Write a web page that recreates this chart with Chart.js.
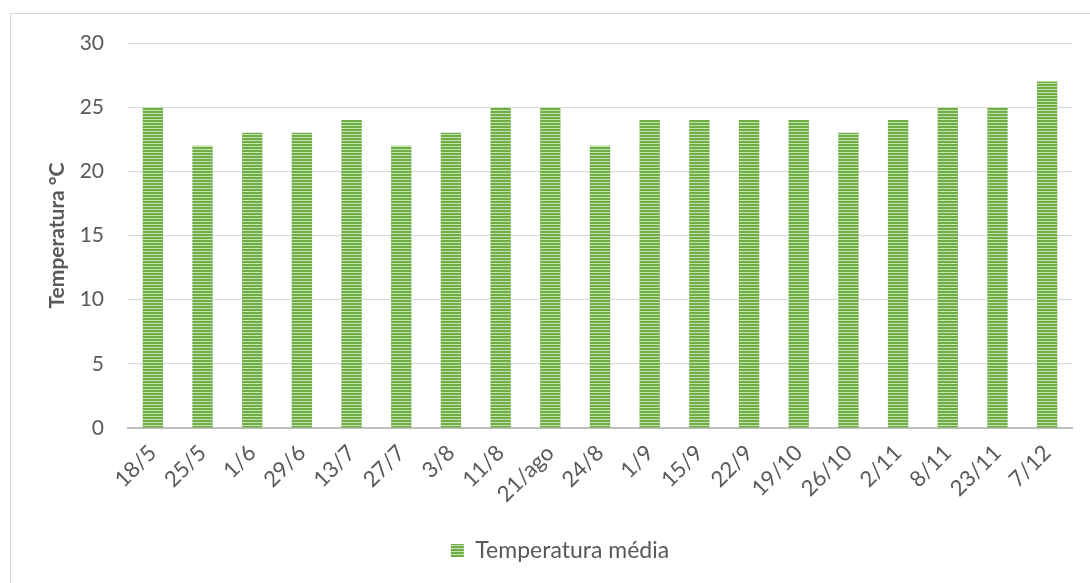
<!DOCTYPE html>
<html>
<head>
<meta charset="utf-8">
<script src="https://cdn.jsdelivr.net/npm/chart.js@4"></script>
<style>
  html, body { margin: 0; padding: 0; background: #fff; }
  canvas { display: block; }
</style>
</head>
<body>
<canvas id="chart" width="1090" height="583"></canvas>
<script>
const dates = ['18/5', '25/5', '1/6', '29/6', '13/7', '27/7', '3/8', '11/8', '21/ago', '24/8',
  '1/9', '15/9', '22/9', '19/10', '26/10', '2/11', '8/11', '23/11', '7/12'];
const tempMedia = [25, 22, 23, 23, 24, 22, 23, 25, 25, 22, 24, 24, 24, 24, 23, 24, 25, 25, 27];
const yTicks = [0, 5, 10, 15, 20, 25, 30];

const FONT = 'Lato, "Open Sans", sans-serif';
const GREY = '#595959';

// horizontal stripes like the Excel fill
function stripes() {
  const c = document.createElement('canvas');
  c.width = 4;
  c.height = 3;
  const g = c.getContext('2d');
  g.fillStyle = '#6fae45';
  g.fillRect(0, 0, 4, 2);
  g.fillStyle = '#c4e0b0';
  g.fillRect(0, 2, 4, 1);
  return g.createPattern(c, 'repeat');
}

const frame = {
  id: 'frame',
  afterLayout(chart) {
    // excel centres the legend on the whole (wider) chart frame
    chart.legend.left += 24;
    chart.legend.right += 24;
  },
  beforeDraw(chart) {
    const ctx = chart.ctx;
    ctx.save();
    ctx.strokeStyle = '#d9d9d9';
    ctx.lineWidth = 1;
    ctx.strokeRect(10.5, 13.5, 2000, 2000);
    ctx.restore();
  }
};

const ctx = document.getElementById('chart').getContext('2d');
const fill = stripes();

new Chart(ctx, {
  type: 'bar',
  data: {
    labels: dates,
    datasets: [{
      label: 'Temperatura média',
      data: tempMedia,
      backgroundColor: fill,
      borderWidth: 0,
      categoryPercentage: 1,
      barPercentage: 0.41
    }]
  },
  options: {
    responsive: false,
    animation: false,
    layout: { padding: { top: 43, right: 18, bottom: 11, left: 0 } },
    plugins: {
      tooltip: { enabled: false },
      legend: {
        position: 'bottom',
        labels: {
          color: GREY,
          font: { family: FONT, size: 23 },
          boxWidth: 13,
          boxHeight: 13,
          padding: 9
        }
      }
    },
    scales: {
      x: {
        grid: { display: false },
        border: { color: '#bfbfbf', width: 2 },
        ticks: {
          color: GREY,
          font: { family: FONT, size: 22 },
          minRotation: 45,
          maxRotation: 45,
          autoSkip: false,
          padding: 4
        },
        afterFit(scale) { scale.height = 102; }
      },
      y: {
        min: 0,
        max: 30,
        afterBuildTicks(scale) { scale.ticks = yTicks.map(v => ({ value: v })); },
        grid: { color: '#d9d9d9', lineWidth: 1, drawTicks: false },
        border: { display: false },
        ticks: {
          color: GREY,
          font: { family: FONT, size: 21 },
          padding: 24
        },
        title: {
          display: true,
          text: 'Temperatura °C',
          color: GREY,
          font: { family: FONT, size: 21, weight: 'bold' },
          padding: { top: 45, bottom: 0 }
        },
        afterFit(scale) { scale.width = 128; }
      }
    }
  },
  plugins: [frame]
});
</script>
</body>
</html>
